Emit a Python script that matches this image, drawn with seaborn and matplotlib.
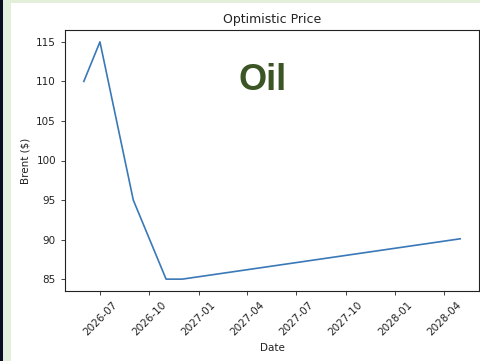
import matplotlib
matplotlib.use("Agg")
import matplotlib.pyplot as plt
import matplotlib.dates as mdates
from matplotlib.patches import Rectangle
import pandas as pd
import seaborn as sns

# Brent price path (optimistic scenario)
dates = ["2026-06-01", "2026-07-01", "2026-09-01", "2026-11-01", "2026-12-01", "2028-05-01"]
brent = [110, 115, 95, 85, 85, 90.1]

df = pd.DataFrame({"Date": pd.to_datetime(dates), "Brent ($)": brent})

fig = plt.figure(figsize=(4.81, 3.61), dpi=100)
fig.patch.set_facecolor("white")

# page frame behind the figure
fig.patches.append(Rectangle((0, 0), 1, 1, transform=fig.transFigure,
                             facecolor="#e3eedb", edgecolor="none", zorder=-3))
fig.patches.append(Rectangle((0, 0), 3 / 481, 1, transform=fig.transFigure,
                             facecolor="#0b0b22", edgecolor="none", zorder=-2))
fig.patches.append(Rectangle((11 / 481, 0), 1, 1 - 3 / 361, transform=fig.transFigure,
                             facecolor="white", edgecolor="none", zorder=-1))

ax = fig.add_axes([65 / 481, 1 - 291 / 361, 414 / 481, 261 / 361])
sns.lineplot(data=df, x="Date", y="Brent ($)", ax=ax, color="#3a78b8", linewidth=1.2)

ax.xaxis.set_major_locator(mdates.MonthLocator(bymonth=[1, 4, 7, 10]))
ax.xaxis.set_major_formatter(mdates.DateFormatter("%Y-%m"))
ax.tick_params(axis="both", labelsize=7.5, length=3, width=0.6, colors="#222222")
for lbl in ax.get_xticklabels():
    lbl.set_rotation(45)
for s in ax.spines.values():
    s.set_linewidth(0.8)
    s.set_color("#222222")

ax.set_title("Optimistic Price", fontsize=9, color="#222222", pad=5)
ax.set_xlabel("Date", fontsize=7.5, color="#222222")
ax.set_ylabel("Brent ($)", fontsize=7.5, color="#222222")

fig.text(263 / 481, 1 - 80 / 361, "Oil", ha="center", va="center",
         fontsize=26, fontweight="bold", color="#3b5524",
         family=["Liberation Sans", "DejaVu Sans"])

fig.savefig("out.png", dpi=100)
